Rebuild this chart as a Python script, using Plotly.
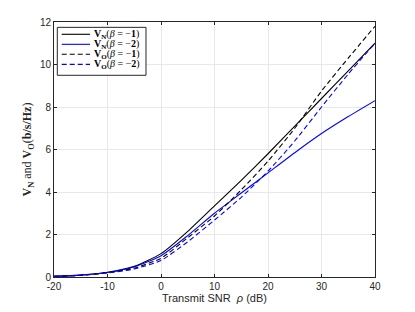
import plotly.graph_objects as go

snr_db = [-20, -15, -10, -5, 0, 5, 10, 15, 20, 25, 30, 35, 40]
vn_beta1 = [0.03, 0.09, 0.22, 0.50, 1.10, 2.15, 3.35, 4.55, 5.80, 7.10, 8.40, 9.70, 11.00]
vn_beta2 = [0.03, 0.09, 0.21, 0.48, 1.00, 1.95, 3.00, 3.95, 4.90, 5.85, 6.75, 7.55, 8.30]
vo_beta1 = [0.03, 0.08, 0.20, 0.42, 0.88, 1.85, 2.87, 4.10, 5.45, 7.00, 8.75, 10.30, 11.80]
vo_beta2 = [0.03, 0.08, 0.19, 0.38, 0.78, 1.66, 2.68, 3.75, 4.98, 6.40, 8.00, 9.55, 11.00]

x_ticks = [-20, -10, 0, 10, 20, 30, 40]
y_ticks = [0, 2, 4, 6, 8, 10, 12]

names = [
    "<b>V</b><sub><b>N</b></sub>(<i>β</i> = −<b>1</b>)",
    "<b>V</b><sub><b>N</b></sub>(<i>β</i> = −<b>2</b>)",
    "<b>V</b><sub><b>O</b></sub>(<i>β</i> = −<b>1</b>)",
    "<b>V</b><sub><b>O</b></sub>(<i>β</i> = −<b>2</b>)",
]
series = [vn_beta1, vn_beta2, vo_beta1, vo_beta2]
colors = ["#000000", "#0000ff", "#000000", "#0000ff"]
dashes = ["solid", "solid", "5px,3px", "5px,3px"]

fig = go.Figure()
for nm, ys, c, d in zip(names, series, colors, dashes):
    fig.add_trace(go.Scatter(
        x=snr_db, y=ys, mode="lines", name=nm, showlegend=False,
        line=dict(color=c, width=1.1, dash=d, shape="spline", smoothing=0.6),
    ))

# compact MATLAB-style legend box (paper coordinates)
leg_x0, leg_x1, leg_y0, leg_y1 = 0.0103, 0.2866, 0.791, 0.979
row_y = [0.9518, 0.9125, 0.8733, 0.834]
line_x0, line_x1, text_x = 0.024, 0.1121, 0.1174
fig.add_shape(type="rect", xref="paper", yref="paper",
              x0=leg_x0, x1=leg_x1, y0=leg_y0, y1=leg_y1,
              line=dict(color="#262626", width=1), fillcolor="white", layer="above")
for nm, c, d, ry in zip(names, colors, dashes, row_y):
    fig.add_shape(type="line", xref="paper", yref="paper",
                  x0=line_x0, x1=line_x1, y0=ry, y1=ry,
                  line=dict(color=c, width=1.1, dash=d), layer="above")
    fig.add_annotation(xref="paper", yref="paper", x=text_x, y=ry,
                       xanchor="left", yanchor="middle", text=nm, showarrow=False,
                       font=dict(family="Liberation Serif, DejaVu Serif, serif", size=10, color="#000000"))

axis_common = dict(
    showline=True, linecolor="#262626", linewidth=1, mirror="ticks",
    ticks="inside", ticklen=3, tickcolor="#262626",
    showgrid=True, gridcolor="#e8e8e8", gridwidth=1,
    zeroline=False, automargin=False,
    tickfont=dict(family="Liberation Sans, Arial, sans-serif", size=10, color="#262626"),
)

fig.update_xaxes(
    range=[-20, 40], tickvals=x_ticks, ticktext=[str(v) if v >= 0 else "-" + str(-v) for v in x_ticks],
    title=dict(text="Transmit SNR  <i>ρ</i> (dB)", standoff=2,
               font=dict(family="Liberation Sans, Arial, sans-serif", size=11, color="#262626")),
    **axis_common,
)
fig.update_yaxes(
    range=[0, 12], tickvals=y_ticks,
    title=dict(text="<b>V</b><sub><b>N</b></sub> and <b>V</b><sub><b>O</b></sub>(<b>b/s/Hz</b>)",
               standoff=5,
               font=dict(family="Liberation Serif, DejaVu Serif, serif", size=12, color="#262626")),
    **axis_common,
)

fig.update_layout(
    width=415, height=312,
    margin=dict(l=54, r=40, t=22, b=35),
    plot_bgcolor="white", paper_bgcolor="white",
    showlegend=False,
)

fig.write_html("out.html", config={"displayModeBar": False},
               post_script="document.body.style.margin='0';")
